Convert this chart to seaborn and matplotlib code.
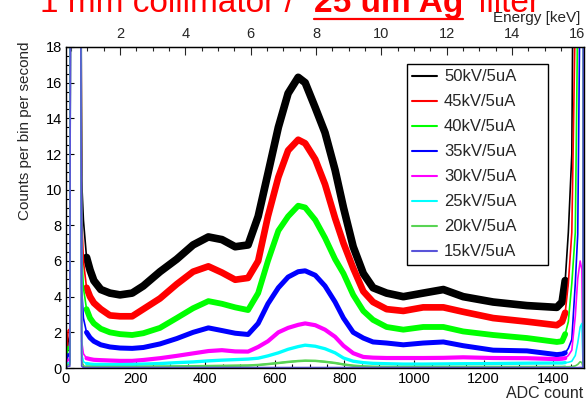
import numpy as np
import pandas as pd
import matplotlib
matplotlib.use("Agg")
import matplotlib.pyplot as plt
from matplotlib.lines import Line2D
from matplotlib.ticker import MultipleLocator
import seaborn as sns

# ---------------- data ----------------
adc = [0, 6, 11, 14, 40, 45, 50, 59, 69, 80, 100, 126, 155, 190, 222, 270, 318, 365,
       409, 448, 486, 523, 552, 580, 610, 638, 667, 687, 716, 744, 773, 797, 825, 854,
       882, 921, 969, 1026, 1084, 1141, 1227, 1324, 1410, 1425, 1434, 1443, 1453, 1463,
       1470, 1477, 1482, 1485, 1487, 1490]

kv50 = [0, 1.5, 1.8, 40, 40, 10.5, 8.3, 6.2, 5.5, 4.9, 4.4, 4.2, 4.1, 4.2, 4.6, 5.4, 6.1, 6.9,
        7.35, 7.2, 6.8, 6.9, 8.5, 10.9, 13.5, 15.4, 16.3, 16.0, 14.6, 13.2, 11.1, 9.0, 6.8, 5.3,
        4.5, 4.2, 4.0, 4.2, 4.4, 4.0, 3.7, 3.5, 3.4, 3.7, 4.9, 7.6, 12.0, 40,
        40, 40, 40, 40, 40, 40]
kv45 = [0, 2.1, 2.2, 40, 40, 8.5, 6.0, 4.5, 4.0, 3.65, 3.3, 2.95, 2.9, 2.9, 3.3, 3.9, 4.7, 5.4,
        5.7, 5.35, 4.95, 5.05, 6.0, 8.5, 10.7, 12.2, 12.8, 12.6, 11.7, 10.3, 8.4, 7.0, 5.6, 4.3,
        3.7, 3.3, 3.2, 3.4, 3.4, 3.15, 2.8, 2.6, 2.4, 2.6, 3.1, 4.75, 7.6, 20,
        40, 40, 40, 40, 40, 40]
kv40 = [0, 1.2, 1.0, 40, 40, 6.5, 4.5, 3.3, 2.8, 2.5, 2.2, 2.0, 1.9, 1.85, 1.95, 2.25, 2.8, 3.35,
        3.75, 3.6, 3.4, 3.25, 4.2, 6.0, 7.7, 8.5, 9.1, 9.0, 8.3, 7.3, 6.1, 5.3, 4.1, 3.2,
        2.7, 2.3, 2.15, 2.3, 2.3, 2.05, 1.85, 1.68, 1.46, 1.5, 1.9, 2.6, 4.75, 7.6,
        20, 40, 40, 40, 40, 40]
kv35 = [0, 0.8, 0.6, 40, 40, 4.5, 2.8, 2.0, 1.7, 1.5, 1.3, 1.18, 1.12, 1.1, 1.15, 1.35, 1.65, 2.0,
        2.25, 2.1, 1.95, 1.88, 2.5, 3.6, 4.5, 5.1, 5.4, 5.45, 5.2, 4.6, 3.7, 2.8, 2.0, 1.68,
        1.46, 1.4, 1.3, 1.4, 1.46, 1.25, 1.0, 0.96, 0.75, 0.78, 0.85, 1.1, 1.6, 4.75,
        7.5, 22, 40, 40, 40, 40]
kv30 = [0, 0.5, 0.4, 40, 40, 1.5, 0.8, 0.55, 0.5, 0.46, 0.44, 0.42, 0.4, 0.4, 0.45, 0.55, 0.68, 0.82,
        0.95, 1.0, 0.93, 0.92, 1.18, 1.5, 2.0, 2.25, 2.42, 2.5, 2.4, 2.15, 1.75, 1.25, 0.83, 0.62,
        0.58, 0.56, 0.56, 0.56, 0.57, 0.6, 0.56, 0.55, 0.5, 0.52, 0.55, 0.7, 1.0, 2.9,
        5.0, 6.0, 5.5, 0.5, 40, 40]
kv25 = [0, 0.3, 0.3, 40, 40, 0.8, 0.35, 0.25, 0.22, 0.2, 0.2, 0.19, 0.19, 0.2, 0.22, 0.25, 0.3, 0.34,
        0.4, 0.44, 0.47, 0.5, 0.55, 0.68, 0.85, 1.05, 1.2, 1.28, 1.22, 1.08, 0.85, 0.56, 0.38, 0.3,
        0.26, 0.24, 0.22, 0.22, 0.23, 0.24, 0.25, 0.27, 0.28, 0.28, 0.3, 0.32, 0.38, 0.7,
        1.4, 2.3, 2.5, 0.3, 40, 40]
kv20 = [0, 0.2, 0.2, 40, 40, 0.4, 0.12, 0.08, 0.07, 0.06, 0.06, 0.06, 0.06, 0.06, 0.07, 0.08, 0.09, 0.1,
        0.11, 0.12, 0.13, 0.14, 0.17, 0.22, 0.28, 0.34, 0.39, 0.41, 0.4, 0.35, 0.28, 0.2, 0.13, 0.09,
        0.07, 0.06, 0.06, 0.06, 0.06, 0.06, 0.06, 0.06, 0.06, 0.06, 0.07, 0.07, 0.08, 0.12,
        0.2, 0.35, 0.3, 0.05, 40, 40]
kv15 = [0, 0.1, 0.1, 40, 40, 0.1, 0.03, 0.02, 0.02, 0.02, 0.02, 0.02, 0.02, 0.02, 0.02, 0.02, 0.02, 0.02,
        0.02, 0.02, 0.02, 0.02, 0.02, 0.02, 0.02, 0.02, 0.02, 0.02, 0.02, 0.02, 0.02, 0.02, 0.02, 0.02,
        0.02, 0.02, 0.02, 0.02, 0.02, 0.02, 0.02, 0.02, 0.02, 0.02, 0.02, 0.02, 0.02, 0.02,
        0.02, 0.03, 0.03, 0.02, 40, 40]

labels = ["50kV/5uA", "45kV/5uA", "40kV/5uA", "35kV/5uA",
          "30kV/5uA", "25kV/5uA", "20kV/5uA", "15kV/5uA"]
series = [kv50, kv45, kv40, kv35, kv30, kv25, kv20, kv15]
colors = ["#000000", "#ff0000", "#00ff00", "#0000ff",
          "#ff00ff", "#00ffff", "#59d454", "#5954d9"]
band_lw = [5.5, 4.8, 4.2, 3.6, 3.0, 2.4, 1.8, 1.6]

# ---------------- style ----------------
sns.set_style("ticks")
plt.rcParams['font.family'] = ['Liberation Sans', 'DejaVu Sans']

W, H = 586, 404
fig = plt.figure(figsize=(W / 100, H / 100), dpi=100)
ax = fig.add_axes([66 / W, 1 - 368 / H, (584 - 66) / W, (368 - 47) / H])

for lab, vals, col, lw in zip(labels, series, colors, band_lw):
    df = pd.DataFrame({"adc": adc, "counts": vals})
    sns.lineplot(data=df, x="adc", y="counts", color=col, linewidth=1.2,
                 ax=ax, legend=False, estimator=None)
    mid = df[(df["adc"] >= 59) & (df["adc"] <= 1434)]
    sns.lineplot(data=mid, x="adc", y="counts", color=col, linewidth=lw,
                 ax=ax, legend=False, estimator=None, solid_joinstyle="round")

ax.set_xlim(0, 1488)
ax.set_ylim(0, 18)
ax.set_xlabel("")
ax.set_ylabel("")
ax.xaxis.set_major_locator(MultipleLocator(200))
ax.xaxis.set_minor_locator(MultipleLocator(50))
ax.yaxis.set_major_locator(MultipleLocator(2))
ax.yaxis.set_minor_locator(MultipleLocator(0.5))
ax.tick_params(which="both", direction="in", top=False, right=False,
               labelsize=10.5, width=0.8, color="black", labelcolor="black", pad=3)
ax.tick_params(which="major", length=5.8)
ax.tick_params(which="minor", length=3.2)
for sp in ax.spines.values():
    sp.set_color("black")
    sp.set_linewidth(1.0)


def a2e(x):
    return 0.3454 + 0.010661 * np.asarray(x, dtype=float)


def e2a(e):
    return (np.asarray(e, dtype=float) - 0.3454) / 0.010661


sec = ax.secondary_xaxis("top", functions=(a2e, e2a))
sec.xaxis.set_major_locator(MultipleLocator(2))
sec.xaxis.set_minor_locator(MultipleLocator(0.5))
sec.tick_params(which="both", direction="in", labelsize=10.5, width=0.8, pad=4)
sec.tick_params(which="major", length=5.8)
sec.tick_params(which="minor", length=3.2)

# legend
handles = [Line2D([], [], color=c, lw=1.5) for c in colors]
leg = ax.legend(handles, labels, loc="upper left",
                bbox_to_anchor=(407 / W, 1 - 262 / H, 141 / W, 198 / H),
                bbox_transform=fig.transFigure, mode="expand",
                frameon=True, fancybox=False, edgecolor="black", framealpha=1,
                fontsize=12, handlelength=1.45, handletextpad=0.45,
                labelspacing=0.6, borderpad=0.32, borderaxespad=0)
leg.get_frame().set_linewidth(1.0)

# axis titles
fig.text(583 / W, 1 - 394 / H, "ADC count", ha="right", va="center", fontsize=11.5)
fig.text(580 / W, 1 - 18 / H, "Energy [keV]", ha="right", va="center", fontsize=11)
fig.text(25 / W, 1 - 42 / H, "Counts per bin per second", rotation=90,
         ha="center", va="top", fontsize=11)

# title (partly cut at the top as in the reference)
base = 1 - 12 / H
fig.text(40 / W, base, "1 mm collimator / ", color="red", fontsize=24,
         ha="left", va="baseline")
t2 = fig.text(314 / W, base, "25 um Ag", color="red", fontsize=24,
              fontweight="bold", ha="left", va="baseline")
fig.text(477 / W, base, "filter", color="red", fontsize=24, ha="left", va="baseline")
renderer = fig.canvas.get_renderer()
bb = t2.get_window_extent(renderer)
fig.add_artist(Line2D([bb.x0 / W, bb.x1 / W], [1 - 19 / H, 1 - 19 / H],
                      color="red", lw=1.6, transform=fig.transFigure))

fig.savefig("out.png", dpi=100)
